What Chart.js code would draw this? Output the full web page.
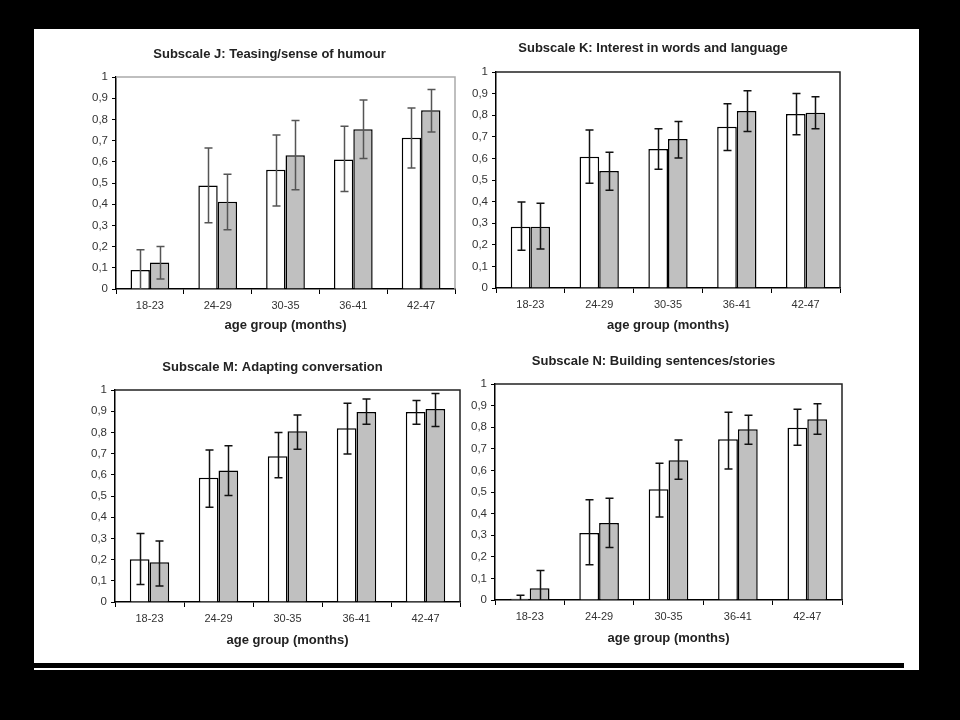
<!DOCTYPE html>
<html>
<head>
<meta charset="utf-8">
<script src="https://cdn.jsdelivr.net/npm/chart.js@4/dist/chart.umd.min.js"></script>
<style>
    html, body { margin: 0; padding: 0; background: #000; }
    body { width: 960px; height: 720px; position: relative; overflow: hidden; }
    #sheet { position: absolute; left: 34px; top: 29px; width: 885px; height: 641px; background: #fff; }
    #rule { position: absolute; left: 34px; top: 663px; width: 870px; height: 5px; background: #000; }
    canvas { position: absolute; }
</style>
</head>
<body>
<div id="sheet"></div>
<div id="rule"></div>
<canvas id="chartJ"></canvas>
<canvas id="chartK"></canvas>
<canvas id="chartM"></canvas>
<canvas id="chartN"></canvas>
<script>
const ageGroups = ['18-23', '24-29', '30-35', '36-41', '42-47'];
const yTickLabels = ['0', '0,1', '0,2', '0,3', '0,4', '0,5', '0,6', '0,7', '0,8', '0,9', '1'];

// Subscale J
const jWhite     = [0.09, 0.488, 0.563, 0.611, 0.713];
const jWhiteLow  = [0, 0.313, 0.392, 0.46, 0.571];
const jWhiteHigh = [0.185, 0.665, 0.727, 0.768, 0.854];
const jGrey      = [0.125, 0.411, 0.631, 0.754, 0.843];
const jGreyLow   = [0.047, 0.279, 0.468, 0.616, 0.741];
const jGreyHigh  = [0.2, 0.541, 0.795, 0.892, 0.941];

// Subscale K
const kWhite     = [0.283, 0.608, 0.644, 0.746, 0.805];
const kWhiteLow  = [0.175, 0.485, 0.55, 0.636, 0.709];
const kWhiteHigh = [0.398, 0.732, 0.737, 0.853, 0.901];
const kGrey      = [0.283, 0.542, 0.69, 0.82, 0.811];
const kGreyLow   = [0.181, 0.452, 0.602, 0.724, 0.737];
const kGreyHigh  = [0.392, 0.628, 0.771, 0.913, 0.885];

// Subscale M
const mWhite     = [0.202, 0.586, 0.688, 0.82, 0.896];
const mWhiteLow  = [0.083, 0.447, 0.586, 0.698, 0.839];
const mWhiteHigh = [0.323, 0.717, 0.8, 0.937, 0.951];
const mGrey      = [0.187, 0.62, 0.806, 0.896, 0.91];
const mGreyLow   = [0.076, 0.502, 0.721, 0.839, 0.828];
const mGreyHigh  = [0.288, 0.737, 0.882, 0.957, 0.984];

// Subscale N
const nWhite     = [0.006, 0.31, 0.513, 0.744, 0.797];
const nWhiteLow  = [0, 0.163, 0.384, 0.607, 0.717];
const nWhiteHigh = [0.022, 0.464, 0.633, 0.869, 0.883];
const nGrey      = [0.054, 0.357, 0.647, 0.79, 0.837];
const nGreyLow   = [0, 0.243, 0.559, 0.721, 0.767];
const nGreyHigh  = [0.136, 0.471, 0.741, 0.855, 0.909];

const FONT = "'Liberation Sans', Arial, sans-serif";

// error bars drawn from the y scale of each chart
const errorBars = {
    id: 'errorBars',
    afterDatasetsDraw(chart) {
        const ctx = chart.ctx;
        const yScale = chart.scales.y;
        chart.data.datasets.forEach((ds, di) => {
            const meta = chart.getDatasetMeta(di);
            ctx.save();
            ctx.strokeStyle = ds.errColor;
            ctx.lineWidth = 1.5;
            meta.data.forEach((bar, i) => {
                const x = Math.round(bar.x) + 0.5;
                const yHi = yScale.getPixelForValue(ds.errHigh[i]);
                const yLo = yScale.getPixelForValue(ds.errLow[i]);
                ctx.beginPath();
                ctx.moveTo(x, yLo);
                ctx.lineTo(x, yHi);
                ctx.moveTo(x - 4, yHi);
                ctx.lineTo(x + 4, yHi);
                if (ds.errLow[i] > 0) {
                    ctx.moveTo(x - 4, yLo);
                    ctx.lineTo(x + 4, yLo);
                }
                ctx.stroke();
            });
            ctx.restore();
        });
    }
};

// top and right edges of the plot frame
const plotFrame = {
    id: 'plotFrame',
    afterDraw(chart, args, opts) {
        const a = chart.chartArea;
        const ctx = chart.ctx;
        ctx.save();
        ctx.strokeStyle = opts.color;
        ctx.lineWidth = 1.5;
        ctx.beginPath();
        ctx.moveTo(a.left, a.top);
        ctx.lineTo(a.right, a.top);
        ctx.lineTo(a.right, a.bottom);
        ctx.stroke();
        ctx.restore();
    }
};

function makePanel(id, title, box, white, whiteLow, whiteHigh, grey, greyLow, greyHigh, frameColor, errColor) {
    const canvas = document.getElementById(id);
    const top = box.titleY - 20;
    const bottom = box.axisTitleY + 13;
    canvas.width = box.left2 - box.left;
    canvas.height = bottom - top;
    canvas.style.left = box.left + 'px';
    canvas.style.top = top + 'px';

    new Chart(canvas.getContext('2d'), {
        type: 'bar',
        data: {
            labels: ageGroups,
            datasets: [
                {
                    data: white, errLow: whiteLow, errHigh: whiteHigh, errColor: errColor,
                    backgroundColor: '#ffffff', borderColor: '#000', borderWidth: 1.5
                },
                {
                    data: grey, errLow: greyLow, errHigh: greyHigh, errColor: errColor,
                    backgroundColor: '#c0c0c0', borderColor: '#000', borderWidth: 1.5
                }
            ]
        },
        options: {
            responsive: false,
            animation: false,
            devicePixelRatio: 1,
            categoryPercentage: 0.571,
            barPercentage: 1,
            layout: { padding: { left: 0, top: 0, bottom: 0, right: box.left2 - box.plotRight } },
            plugins: {
                legend: { display: false },
                tooltip: { enabled: false },
                title: {
                    display: true,
                    text: title,
                    color: '#222',
                    font: { family: FONT, size: 13, weight: 'bold' },
                    padding: { top: 12.2, bottom: box.plotTop - box.titleY - 7.8 }
                },
                plotFrame: { color: frameColor }
            },
            scales: {
                x: {
                    grid: { display: true, drawOnChartArea: false, tickLength: 5, color: '#000', offset: true },
                    border: { color: '#000', width: 1.5 },
                    ticks: { color: '#333', padding: 5, font: { family: FONT, size: 11 } },
                    title: {
                        display: true,
                        text: 'age group (months)',
                        color: '#222',
                        font: { family: FONT, size: 13, weight: 'bold' },
                        padding: { top: 0, bottom: 5.2 }
                    },
                    afterFit: s => { s.height = bottom - box.plotBottom; }
                },
                y: {
                    min: 0,
                    max: 1,
                    grid: { display: true, drawOnChartArea: false, tickLength: 4, color: '#000' },
                    border: { color: '#000', width: 1.5 },
                    ticks: {
                        stepSize: 0.1,
                        color: '#333',
                        padding: 4,
                        font: { family: FONT, size: 11.5 },
                        callback: (v, i) => yTickLabels[i]
                    },
                    afterFit: s => { s.width = box.plotLeft - box.left; }
                }
            }
        },
        plugins: [errorBars, plotFrame]
    });
}

makePanel('chartJ', 'Subscale J: Teasing/sense of humour',
    { left: 84, left2: 470, plotLeft: 116, plotRight: 455, titleY: 54, plotTop: 77, plotBottom: 289, axisTitleY: 325 },
    jWhite, jWhiteLow, jWhiteHigh, jGrey, jGreyLow, jGreyHigh, '#aaaaaa', '#555');
makePanel('chartK', 'Subscale K: Interest in words and language',
    { left: 466, left2: 860, plotLeft: 496, plotRight: 840, titleY: 48, plotTop: 72, plotBottom: 288, axisTitleY: 325 },
    kWhite, kWhiteLow, kWhiteHigh, kGrey, kGreyLow, kGreyHigh, '#222', '#111');
makePanel('chartM', 'Subscale M: Adapting conversation',
    { left: 85, left2: 470, plotLeft: 115, plotRight: 460, titleY: 367, plotTop: 390, plotBottom: 602, axisTitleY: 640 },
    mWhite, mWhiteLow, mWhiteHigh, mGrey, mGreyLow, mGreyHigh, '#222', '#111');
makePanel('chartN', 'Subscale N: Building sentences/stories',
    { left: 465, left2: 860, plotLeft: 495, plotRight: 842, titleY: 361, plotTop: 384, plotBottom: 600, axisTitleY: 638 },
    nWhite, nWhiteLow, nWhiteHigh, nGrey, nGreyLow, nGreyHigh, '#222', '#111');
</script>
</body>
</html>
